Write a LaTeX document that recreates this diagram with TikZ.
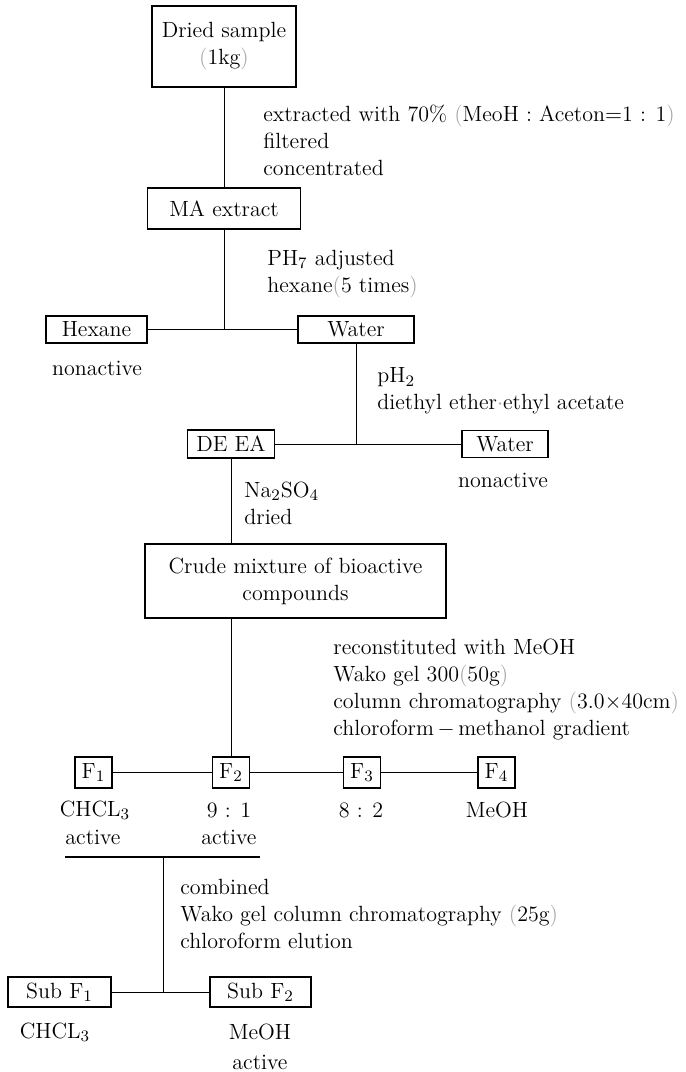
\documentclass[tikz,border=0pt]{standalone}
\usepackage{xcolor}
\usepackage{tikz}
\usetikzlibrary{positioning}

\newcommand{\lpar}{{\color{black!35}(}}
\newcommand{\rpar}{{\color{black!35})}}

\begin{document}
\begin{tikzpicture}[
  x=0.5pt, y=-0.5pt,
  font=\fontsize{11}{13.5}\selectfont,
  box/.style={draw, line width=0.9pt, inner sep=0pt, align=center},
  note/.style={anchor=west, align=left, inner sep=0pt},
  lbl/.style={inner sep=0pt, align=center},
  ln/.style={line width=0.5pt}
]
\useasboundingbox (0,0) rectangle (686,1072);

% extraction
\node[box, minimum width=72pt, minimum height=40.5pt] (dried) at (224,46.5)
  {Dried sample\\ \lpar1kg\rpar};
\node[box, minimum width=76.5pt, minimum height=20.5pt] (ma) at (224,208.5) {MA extract};
\node[note] (extnote) at (263,140)
  {extracted with 70\% \lpar MeoH : Aceton$=$1 : 1\rpar\\ filtered\\ concentrated};

% hexane partition
\node[box, minimum width=50.5pt, minimum height=13.5pt] (hex) at (96.5,329.5) {Hexane};
\node[box, minimum width=58pt, minimum height=13.5pt] (wat1) at (356,329.5) {Water};
\node[lbl] (hexact) at (97,368) {nonactive};
\node[note] (phnote) at (267,274) {PH$_7$ adjusted\\ hexane\lpar5 times\rpar};

% ether partition
\node[box, minimum width=43.5pt, minimum height=14pt] (deea) at (231,444) {DE EA};
\node[box, minimum width=43pt, minimum height=13.5pt] (wat2) at (505,444) {Water};
\node[lbl] (watact) at (503,480) {nonactive};
\node[note] (ethnote) at (377,391)
  {pH$_2$\\ diethyl ether{\color{black!35}$\cdot$}ethyl acetate};
\node[note] (nanote) at (244,503) {Na$_2$SO$_4$\\ dried};

% crude
\node[box, minimum width=150.5pt, minimum height=37pt] (crude) at (295.5,581)
  {Crude mixture of bioactive\\ compounds};
\node[note] (colnote) at (333,690)
  {reconstituted with MeOH\\ Wako gel 300\lpar50g\rpar\\
   column chromatography \lpar3.0$\times$40cm\rpar\\
   chloroform$\,-\,$methanol gradient};

% fractions
\node[box, minimum width=18.5pt, minimum height=15.5pt] (f1) at (93.5,772.5) {F$_1$};
\node[box, minimum width=18.5pt, minimum height=15.5pt] (f2) at (231,772.5) {F$_2$};
\node[box, minimum width=18.5pt, minimum height=15.5pt] (f3) at (362,772.5) {F$_3$};
\node[box, minimum width=18.5pt, minimum height=15.5pt] (f4) at (496.5,772.5) {F$_4$};
\node[lbl] (f1sol) at (95,810) {CHCL$_3$};
\node[lbl] (f1act) at (93,837) {active};
\node[lbl] (f2sol) at (229,810) {9 : 1};
\node[lbl] (f2act) at (229,837) {active};
\node[lbl] (f3sol) at (361,810) {8 : 2};
\node[lbl] (f4sol) at (497,810) {MeOH};

% sub fractions
\coordinate (barL) at (65,857);
\coordinate (barR) at (260,857);
\coordinate (barM) at (163,857);
\node[note] (subnote) at (180,914)
  {combined\\ Wako gel column chromatography \lpar25g\rpar\\ chloroform elution};
\node[box, minimum width=51.5pt, minimum height=15pt] (sub1) at (59.5,992) {Sub F$_1$};
\node[box, minimum width=50.5pt, minimum height=15pt] (sub2) at (260.5,992) {Sub F$_2$};
\node[lbl] (sub1sol) at (55,1032) {CHCL$_3$};
\node[lbl] (sub2sol) at (260,1032) {MeOH};
\node[lbl] (sub2act) at (260,1062) {active};

\draw[ln] (dried.south) -- (ma.north);
\draw[ln] (ma.south) -- (ma.south |- hex.east);
\draw[ln] (hex.east) -- (wat1.west);
\draw[ln] (wat1.south) -- (wat1.south |- wat2.west);
\draw[ln] (deea.east) -- (wat2.west);
\draw[ln] (deea.south) -- (deea.south |- crude.north);
\draw[ln] (f2.north) -- (f2.north |- crude.south);
\draw[ln] (f1.east) -- (f2.west);
\draw[ln] (f2.east) -- (f3.west);
\draw[ln] (f3.east) -- (f4.west);
\draw[line width=0.8pt] (barL) -- (barR);
\draw[ln] (barM) -- (barM |- sub1.east);
\draw[ln] (sub1.east) -- (sub2.west);
\end{tikzpicture}
\end{document}
